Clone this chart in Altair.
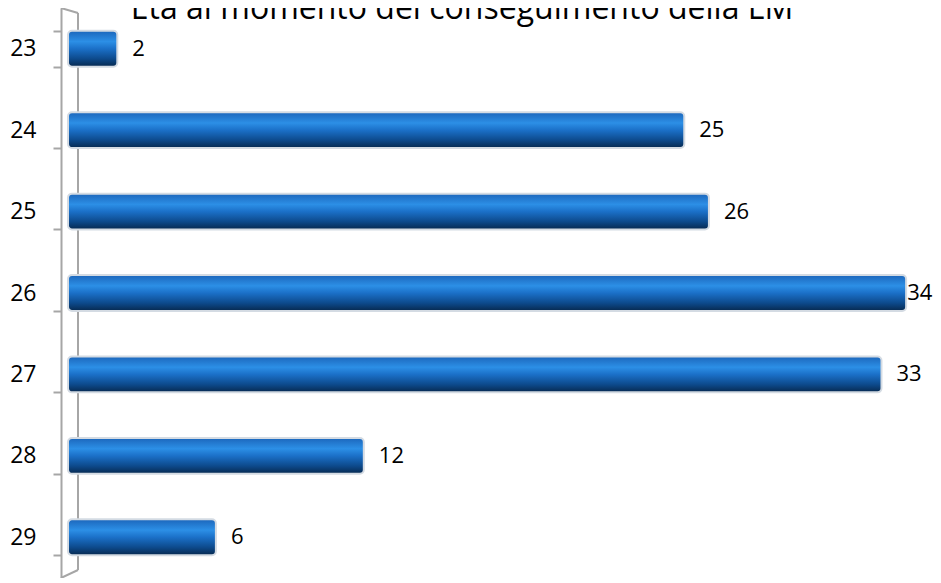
import altair as alt
import pandas as pd

ages = ["23", "24", "25", "26", "27", "28", "29"]
counts = [2, 25, 26, 34, 33, 12, 6]
title_text = "Età al momento del conseguimento della LM"

df = pd.DataFrame({"eta": ages, "n": counts})

grad = alt.Gradient(
    gradient="linear",
    stops=[
        alt.GradientStop(color="#1c66bb", offset=0),
        alt.GradientStop(color="#2c8fe6", offset=0.3),
        alt.GradientStop(color="#1b70c8", offset=0.5),
        alt.GradientStop(color="#0d4a8c", offset=0.78),
        alt.GradientStop(color="#07294f", offset=1),
    ],
    x1=0, x2=0, y1=0, y2=1,
)

x = alt.X("n:Q", scale=alt.Scale(domain=[-0.284, 35.09], nice=False, zero=False), axis=None)
y = alt.Y(
    "eta:N",
    sort=ages,
    scale=alt.Scale(paddingInner=0.56, paddingOuter=0.28),
    axis=alt.Axis(
        title=None, tickBand="extent", domainColor="#a6a6a6", domainWidth=2,
        tickColor="#a6a6a6", tickWidth=2, tickSize=8, labelFont="Open Sans",
        labelFontSize=23, labelColor="black", labelPadding=17, grid=False,
    ),
)

one = alt.Data(values=[{"t": title_text}])
back = alt.Chart(one).mark_rule(color="#a6a6a6", strokeWidth=2).encode(
    x=alt.value(17), y=alt.value(5), y2=alt.value(562)
)
diag_b = alt.Chart(one).mark_rule(color="#a6a6a6", strokeWidth=2).encode(
    x=alt.value(0), x2=alt.value(17), y=alt.value(570), y2=alt.value(562)
)
diag_t = alt.Chart(one).mark_rule(color="#a6a6a6", strokeWidth=2).encode(
    x=alt.value(0), x2=alt.value(17), y=alt.value(0), y2=alt.value(5)
)
title = alt.Chart(one).mark_text(
    font="Open Sans", fontSize=32, color="black", align="center", baseline="alphabetic"
).encode(x=alt.value(401), y=alt.value(11), text="t:N")

base = alt.Chart(df)
bars = base.mark_bar(fill=grad, stroke="#d4dbe3", strokeWidth=2, cornerRadius=4).encode(
    x=x, x2=alt.datum(0), y=y
)
labels = base.transform_joinaggregate(mx="max(n)").transform_filter(
    "datum.n < datum.mx"
).mark_text(align="left", baseline="middle", dx=15, font="Open Sans", fontSize=22, color="black").encode(
    x=x, y=y, text="n:Q"
)
labels_max = base.transform_joinaggregate(mx="max(n)").transform_filter(
    "datum.n == datum.mx"
).mark_text(align="left", baseline="middle", dx=1, font="Open Sans", fontSize=22, color="black").encode(
    x=x, y=y, text="n:Q"
)

chart = alt.layer(back, diag_b, diag_t, bars, labels, labels_max, title).properties(
    width=872,
    height=570,
    autosize=alt.AutoSizeParams(type="none"),
    padding={"left": 53, "top": 0, "right": 0, "bottom": 0},
).configure_view(stroke=None)

chart.save("out.html", embed_options={"renderer": "svg", "actions": False})
